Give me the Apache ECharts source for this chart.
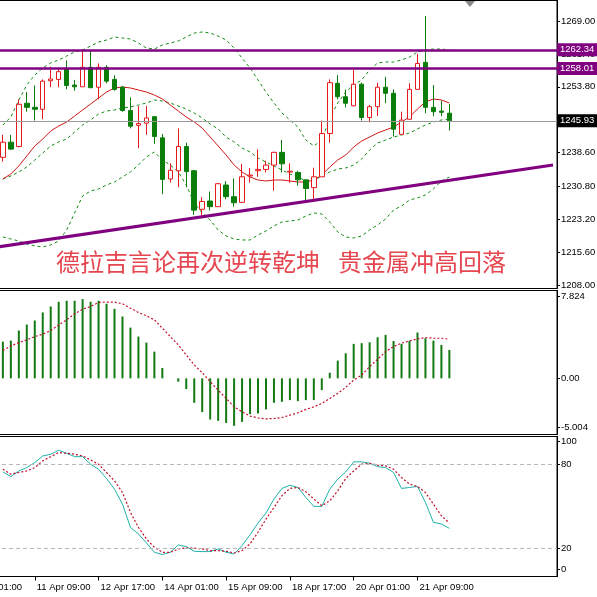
<!DOCTYPE html>
<html><head><meta charset="utf-8">
<script src="https://cdn.jsdelivr.net/npm/echarts@6/dist/echarts.min.js"></script>
<style>html,body{margin:0;padding:0;background:#fff}#c{width:597px;height:597px}</style>
</head><body><div id="c"></div>
<script>
// ---- price candles (H4 bars 0..56) ----
const opens = [1237.5,1241.0,1240.0,1250.0,1249.05,1248.6,1255.2,1255.5,1257.9,1254.2,
1253.8,1258.3,1253.7,1258.3,1255.5,1253.7,1248.3,1244.9,1245.4,1246.9,
1242.0,1232.5,1234.4,1240.0,1234.4,1225.5,1227.4,1226.1,1231.1,1228.4,
1227.1,1233.2,1234.4,1234.7,1235.7,1238.65,1234.1,1234.0,1232.3,1230.5,
1233.0,1243.0,1254.6,1251.5,1249.4,1254.4,1246.7,1249.2,1253.7,1252.3,
1242.8,1246.3,1253.2,1259.45,1249.05,1248.2,1247.7];
const closes = [1241.0,1239.4,1249.75,1249.05,1248.6,1255.1,1255.6,1257.3,1254.1,1253.8,
1258.3,1253.6,1258.3,1255.1,1253.2,1248.3,1244.7,1245.3,1246.6,1242.3,
1232.4,1234.5,1240.0,1234.2,1225.3,1227.3,1226.1,1231.4,1228.4,1227.0,
1233.0,1233.4,1234.7,1235.7,1238.65,1236.0,1234.3,1232.3,1230.3,1233.0,
1243.0,1254.75,1251.5,1250.0,1254.4,1246.7,1249.2,1253.7,1252.3,1244.0,
1246.1,1253.2,1259.2,1249.05,1248.05,1247.9,1245.93];
const highs = [1242.7,1242.7,1250.9,1252.6,1254.1,1255.5,1258.45,1258.05,1259.9,1255.4,
1262.3,1262.3,1259.2,1258.8,1256.45,1254.0,1251.35,1249.35,1249.4,1247.0,
1242.9,1236.1,1244.2,1240.9,1234.6,1228.3,1229.6,1231.6,1232.0,1232.65,
1236.0,1235.0,1239.35,1236.7,1238.8,1241.5,1236.1,1234.4,1232.3,1235.1,
1246.0,1255.5,1256.5,1253.2,1257.8,1254.75,1249.6,1254.75,1256.1,1253.2,
1248.05,1254.6,1261.4,1270.15,1254.2,1250.6,1249.8];
const lows = [1236.5,1239.2,1239.8,1248.05,1246.0,1246.3,1253.7,1253.7,1253.2,1252.9,
1253.8,1253.45,1250.9,1254.6,1252.9,1248.05,1244.2,1239.6,1242.7,1240.6,
1229.0,1231.65,1230.6,1230.6,1224.2,1224.0,1225.2,1226.1,1227.8,1226.1,
1227.1,1231.65,1233.0,1234.0,1229.8,1234.0,1231.65,1230.95,1227.5,1227.8,
1233.0,1240.9,1250.9,1249.05,1249.3,1246.0,1245.6,1247.05,1250.0,1242.3,
1242.8,1246.3,1253.2,1247.7,1247.0,1247.0,1243.7];

// ---- overlays ----
const bbUpper = [1244.97,1246.82,1250.75,1254.21,1256.53,1258.14,1259.31,1259.99,1260.91,1261.84,
1262.30,1263.22,1264.15,1264.61,1265.30,1265.07,1264.84,1263.92,1262.76,1262.53,
1263.45,1263.92,1264.38,1265.30,1266.23,1266.46,1266.23,1265.53,1264.61,1262.76,
1260.45,1258.14,1255.37,1252.59,1250.06,1247.74,1246.13,1244.51,1241.50,1240.12,
1241.50,1246.59,1250.06,1252.59,1254.21,1255.37,1257.68,1259.31,1259.53,1259.53,
1259.99,1260.68,1261.84,1262.30,1262.53,1262.53,1262.30];
const bbMiddle = [1232.49,1233.19,1234.11,1235.27,1236.88,1238.50,1240.12,1241.04,1241.73,1243.35,
1244.97,1246.13,1247.51,1248.21,1248.44,1248.90,1249.13,1249.59,1250.06,1250.75,
1250.52,1250.06,1249.36,1248.67,1247.74,1246.59,1245.20,1244.05,1242.19,1241.04,
1239.66,1238.73,1237.34,1236.42,1235.50,1234.57,1233.65,1232.96,1232.03,1232.26,
1233.19,1234.11,1234.80,1235.04,1235.73,1237.11,1239.20,1240.81,1241.50,1242.19,
1242.66,1243.12,1244.05,1244.97,1245.66,1246.13,1246.36];
const bbLower = [1219.10,1218.63,1218.17,1217.48,1217.02,1216.79,1217.25,1218.17,1220.71,1224.64,
1228.57,1229.72,1230.19,1231.11,1231.80,1232.96,1234.11,1235.73,1237.58,1238.73,
1236.88,1235.73,1234.11,1231.11,1226.95,1224.64,1223.02,1220.71,1219.33,1218.63,
1218.40,1218.40,1219.56,1220.48,1221.64,1222.56,1222.79,1223.02,1223.95,1224.64,
1224.41,1222.56,1220.25,1219.10,1218.86,1219.33,1220.71,1221.87,1223.25,1225.33,
1226.26,1227.64,1228.11,1228.80,1230.19,1232.03,1232.96];
const maRed = [1232.49,1233.65,1235.50,1237.81,1240.12,1241.73,1243.58,1244.74,1245.66,1247.05,
1248.44,1249.82,1251.21,1252.59,1253.52,1253.75,1253.52,1253.06,1252.59,1251.90,
1250.98,1249.59,1248.21,1246.82,1245.66,1244.28,1242.19,1240.12,1238.04,1235.73,
1234.11,1232.96,1232.26,1232.03,1232.26,1232.26,1232.03,1231.80,1231.80,1232.26,
1233.42,1235.27,1236.88,1238.04,1239.89,1241.27,1242.19,1243.12,1243.82,1244.51,
1245.66,1246.82,1248.67,1250.29,1250.98,1250.75,1250.06];

// ---- horizontal levels and trend line ----
const levelResist = [1262.34, 1258.01];
const lastPrice = 1245.93;
const trendBars = [-4, 69];
const trendPrices = [1215.88, 1235.73];

// ---- MACD ----
const macdHist = [3.27,3.36,4.26,4.79,5.15,5.87,6.40,6.82,6.91,6.91,
7.06,6.82,6.91,6.64,6.19,5.51,4.52,3.72,3.18,2.38,
0.92,0,-0.30,-0.96,-2.18,-3.01,-3.67,-3.79,-3.97,-4.23,
-3.88,-3.19,-3.13,-2.77,-2.18,-2.09,-1.94,-2.03,-1.94,-1.94,
-1.05,0.50,1.58,2.23,3.07,3.13,3.21,3.66,3.87,3.33,
3.07,3.33,4.08,3.57,3.36,2.98,2.53];
const macdSignal = [2.47,2.89,3.18,3.42,3.72,3.93,4.26,4.76,5.21,5.75,
6.16,6.40,6.76,6.79,6.79,6.64,6.25,5.87,5.57,5.21,
4.47,3.72,2.98,2.08,1.19,0.50,-0.30,-1.05,-1.79,-2.54,
-2.98,-3.37,-3.52,-3.61,-3.58,-3.49,-3.28,-3.07,-2.77,-2.54,
-2.24,-1.79,-1.34,-0.81,-0.15,0.29,1.04,1.70,2.38,2.83,
3.13,3.33,3.51,3.63,3.57,3.57,3.48];

// ---- Stochastic ----
const stochK = [74.7,71.4,75.4,77.8,81.4,86.1,87.3,90.2,88.0,85.6,
85.6,80.2,76.6,70.0,62.4,51.7,35.1,30.4,24.0,17.3,
15.7,17.3,22.5,21.4,18.0,17.8,17.8,19.7,17.3,16.1,
22.1,29.7,38.2,45.3,55.3,62.9,65.2,63.6,56.5,50.1,
50.1,62.4,69.5,74.7,81.9,81.9,80.9,78.5,77.8,74.3,
62.9,63.6,64.3,52.9,38.7,37.5,34.4];
const stochD = [76.6,73.1,74.3,75.4,77.8,82.6,85.6,88.5,88.0,87.3,
86.1,83.3,80.2,74.3,68.3,60.0,45.8,35.1,26.8,20.9,
17.3,17.3,19.7,20.4,20.2,19.7,18.5,18.5,18.0,16.8,
18.5,23.3,31.6,41.0,49.3,57.7,62.9,63.6,60.5,55.3,
50.5,54.1,61.2,70.0,75.4,80.2,80.9,79.5,79.0,76.6,
70.7,66.0,64.3,60.0,51.7,43.4,38.2];
const stochLevels = [80, 20];

// ---- axis ticks / labels ----
const priceTicks = [1208.0, 1215.6, 1223.2, 1230.8, 1238.6, 1253.8, 1261.4, 1269.0];
const macdTickValues = [7.29, 0, -4.38];
const macdTickLabels = ["7.824", "0.00", "-5.004"];
const stochTickValues = [96.5, 80, 20, 5];
const stochTickLabels = ["100", "80", "20", "0"];
const timeLabelBars = [-4, 4, 12, 20, 28, 36, 44, 52];
const timeLabels = ["8 Apr 01:00","11 Apr 09:00","12 Apr 17:00","14 Apr 01:00","15 Apr 09:00","18 Apr 17:00","20 Apr 01:00","21 Apr 09:00"];
const headlineParts = ["德拉吉言论再次逆转乾坤", "贵金属冲高回落"];

// ---- build ----
const LEAD = 4, TRAIL = 13, N = opens.length;
const categories = [];
for (let i = -LEAD; i < N + TRAIL; i++) categories.push(String(i));
const pad = a => Array(LEAD).fill('-').concat(a, Array(TRAIL).fill('-'));
const candleData = opens.map((o, i) => [i + LEAD, o, closes[i], lows[i], highs[i]]);
const labelIdx = new Set(timeLabelBars.map(b => b + LEAD));
const FONT = "'Liberation Sans',Arial,sans-serif";
const FS = 9.5;
const nearestLabel = (vals, labs) => v => {
  let k = 0; vals.forEach((x, i) => { if (Math.abs(x - v) < Math.abs(vals[k] - v)) k = i; });
  return labs[k];
};

const gridBase = { left: -33, right: 40, show: true, borderColor: '#000', borderWidth: 1,
  backgroundColor: 'transparent', containLabel: false, outerBoundsMode: 'none' };

const xAxes = [0, 1, 2].map(k => ({
  type: 'category', gridIndex: k, data: categories, boundaryGap: true,
  axisLine: { show: k === 2, lineStyle: { color: '#000' } },
  axisTick: { show: k === 2, alignWithLabel: true, interval: i => labelIdx.has(i), length: 4, lineStyle: { color: '#000' } },
  axisLabel: { show: k === 2, interval: i => labelIdx.has(i), align: 'left', margin: 6, padding: [0, 0, 0, 2],
    color: '#000', fontSize: FS, fontFamily: FONT,
    formatter: v => timeLabels[timeLabelBars.indexOf(Number(v))] || '' },
  splitLine: { show: false }
}));

const yCommon = {
  position: 'right', splitLine: { show: false },
  axisLine: { show: true, lineStyle: { color: '#000' } }
};
const lblStyle = { color: '#000', fontSize: FS, fontFamily: FONT, margin: 4 };

const boxLabel = (bg) => ({ show: true, position: 'end', distance: 0, color: '#fff', backgroundColor: bg,
  padding: [2, 3, 1, 3], fontSize: FS, fontFamily: FONT, formatter: p => p.value.toFixed(2) });

const option = {
  animation: false,
  backgroundColor: '#fff',
  title: { text: '{a|' + headlineParts[0] + '}{s|  }{a|' + headlineParts[1] + '}', left: 56, top: 250, padding: 0,
    textStyle: { rich: {
      a: { color: '#e5464f', fontSize: 24, fontWeight: 'normal', fontFamily: "'Noto Sans CJK SC'" },
      s: { width: 18, fontSize: 24, fontFamily: "'Noto Sans CJK SC'" } } } },
  graphic: [{ type: 'polygon', shape: { points: [[465, 1], [475, 1], [470, 7]] }, style: { fill: '#888' } }],
  grid: [
    Object.assign({}, gridBase, { top: 0.5, height: 288 }),
    Object.assign({}, gridBase, { top: 290.5, height: 144 }),
    Object.assign({}, gridBase, { top: 436.5, height: 140 })
  ],
  xAxis: xAxes,
  yAxis: [
    Object.assign({}, yCommon, { type: 'value', gridIndex: 0, min: 1207.19, max: 1273.74,
      axisTick: { show: true, customValues: priceTicks, length: 3, lineStyle: { color: '#000' } },
      axisLabel: Object.assign({ customValues: priceTicks, formatter: v => v.toFixed(2) }, lblStyle) }),
    Object.assign({}, yCommon, { type: 'value', gridIndex: 1, min: -5.004, max: 7.824,
      axisTick: { show: true, customValues: macdTickValues, length: 3, lineStyle: { color: '#000' } },
      axisLabel: Object.assign({ customValues: macdTickValues, formatter: nearestLabel(macdTickValues, macdTickLabels) }, lblStyle) }),
    Object.assign({}, yCommon, { type: 'value', gridIndex: 2, min: 0, max: 100,
      axisTick: { show: true, customValues: stochTickValues, length: 3, lineStyle: { color: '#000' } },
      axisLabel: Object.assign({ customValues: stochTickValues, formatter: nearestLabel(stochTickValues, stochTickLabels) }, lblStyle) })
  ],
  series: [
    { type: 'line', xAxisIndex: 0, yAxisIndex: 0, data: pad(bbUpper), showSymbol: false, symbol: 'none',
      lineStyle: { color: '#138a13', width: 1, type: [3, 3] }, z: 2 },
    { type: 'line', xAxisIndex: 0, yAxisIndex: 0, data: pad(bbMiddle), showSymbol: false, symbol: 'none',
      lineStyle: { color: '#138a13', width: 1, type: [3, 3] }, z: 2 },
    { type: 'line', xAxisIndex: 0, yAxisIndex: 0, data: pad(bbLower), showSymbol: false, symbol: 'none',
      lineStyle: { color: '#138a13', width: 1, type: [3, 3] }, z: 2 },
    { type: 'line', xAxisIndex: 0, yAxisIndex: 0, data: pad(maRed), showSymbol: false, symbol: 'none',
      lineStyle: { color: '#d01818', width: 1 }, z: 2 },
    { type: 'candlestick', xAxisIndex: 0, yAxisIndex: 0, data: candleData,
      encode: { x: 0, y: [1, 2, 3, 4] }, barWidth: 5, z: 3,
      itemStyle: { color: '#ffffff', color0: '#0b7d0b', borderColor: '#e41a1c', borderColor0: '#0b7d0b', borderWidth: 1 },
      markLine: { symbol: 'none', silent: true, animation: false, z: 4,
        data: [
          { yAxis: lastPrice, lineStyle: { color: '#9a9a9a', width: 1, type: 'solid' }, label: boxLabel('#000') },
          { yAxis: levelResist[0], lineStyle: { color: '#800080', width: 2.5, type: 'solid' }, label: boxLabel('#800080') },
          { yAxis: levelResist[1], lineStyle: { color: '#800080', width: 2.5, type: 'solid' }, label: boxLabel('#800080') },
          [ { coord: [trendBars[0] + LEAD, trendPrices[0]], lineStyle: { color: '#800080', width: 3, type: 'solid' }, label: { show: false } },
            { coord: [trendBars[1] + LEAD, trendPrices[1]] } ]
        ] } },
    { type: 'bar', xAxisIndex: 1, yAxisIndex: 1, data: pad(macdHist), barWidth: 2,
      itemStyle: { color: '#137a13' } },
    { type: 'line', xAxisIndex: 1, yAxisIndex: 1, data: pad(macdSignal), showSymbol: false, symbol: 'none',
      lineStyle: { color: '#c0102a', width: 1.2, type: [2, 2] } },
    { type: 'line', xAxisIndex: 2, yAxisIndex: 2, data: pad(stochK), showSymbol: false, symbol: 'none',
      lineStyle: { color: '#20b2aa', width: 1 },
      markLine: { symbol: 'none', silent: true, label: { show: false },
        lineStyle: { color: '#b8b8b8', width: 1, type: [4, 3] },
        data: stochLevels.map(v => ({ yAxis: v })) } },
    { type: 'line', xAxisIndex: 2, yAxisIndex: 2, data: pad(stochD), showSymbol: false, symbol: 'none',
      lineStyle: { color: '#c0102a', width: 1.2, type: [2, 2] } }
  ]
};
const chart = echarts.init(document.getElementById('c'), null, { renderer: 'canvas' });
chart.setOption(option);
</script></body></html>
